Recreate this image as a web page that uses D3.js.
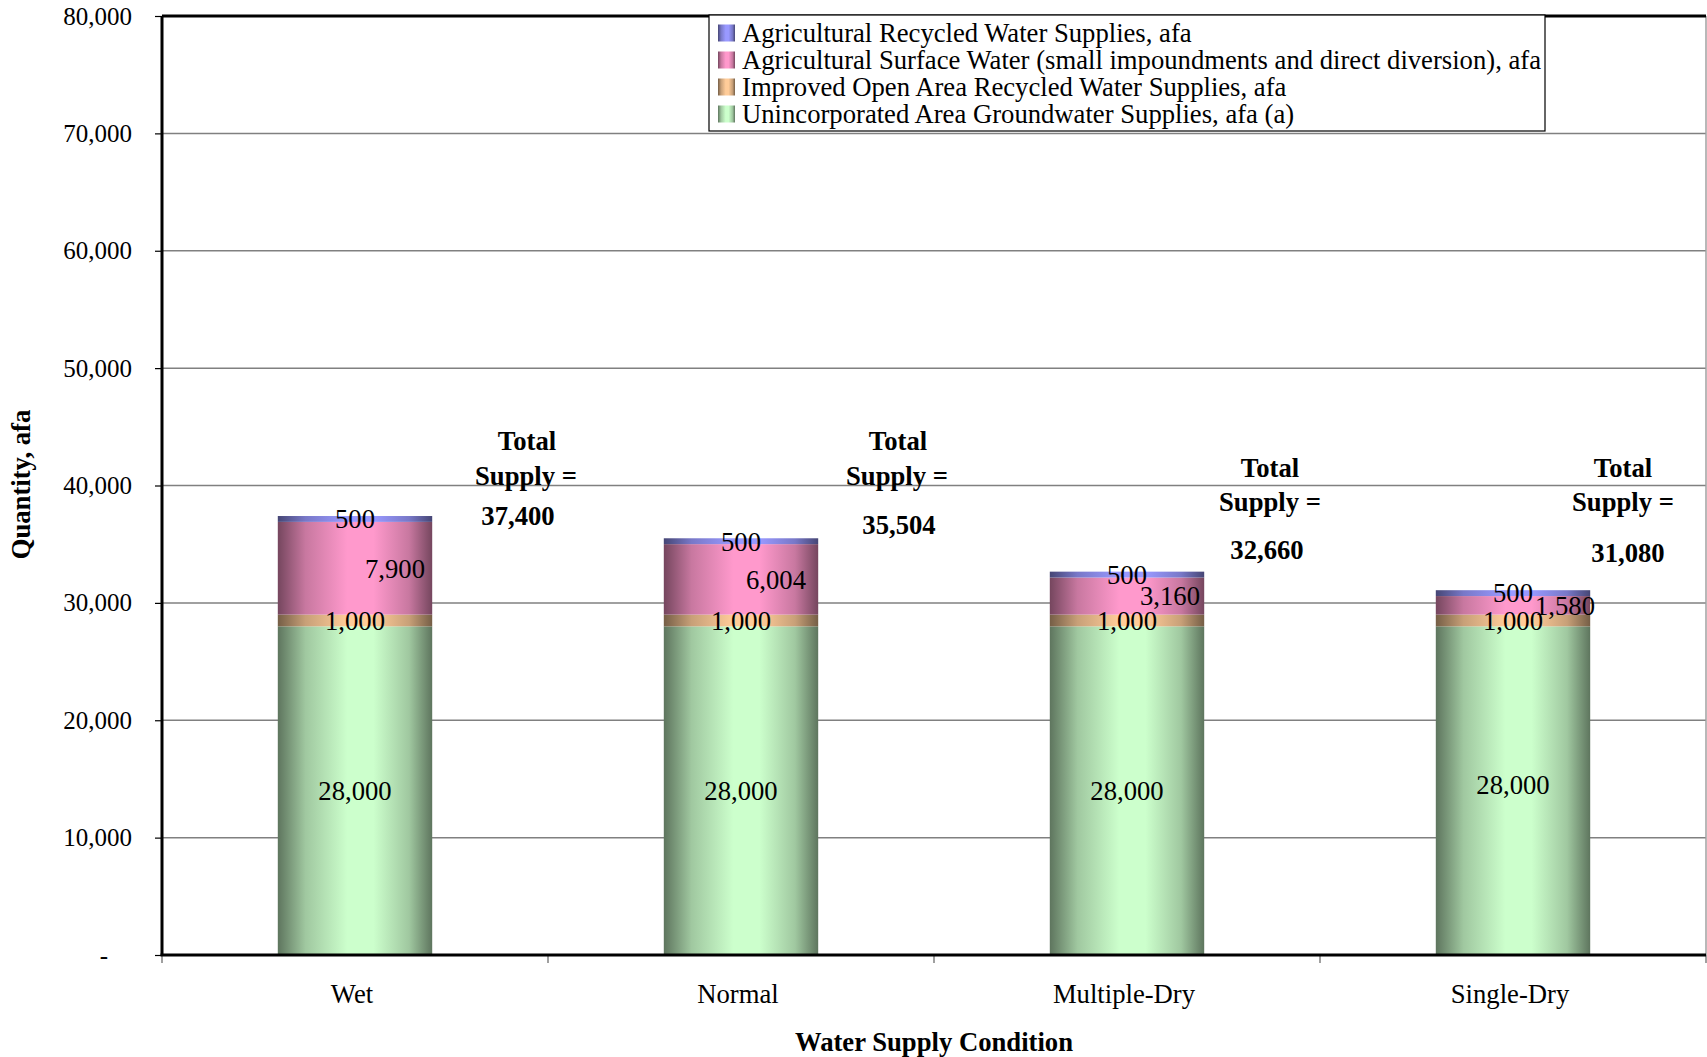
<!DOCTYPE html>
<html>
<head>
<meta charset="utf-8">
<script src="https://cdn.jsdelivr.net/npm/d3@7"></script>
<style>
  html, body { margin: 0; padding: 0; background: #fff; }
  svg { display: block; }
  text { font-family: "Liberation Serif", "Times New Roman", Times, serif; fill: #000; }
</style>
</head>
<body>
<svg id="chart" width="1707" height="1057"></svg>
<script>
// ---- data ----
const categories = ["Wet", "Normal", "Multiple-Dry", "Single-Dry"];
const seriesNames = [
  "Unincorporated Area Groundwater Supplies, afa (a)",
  "Improved Open Area Recycled Water Supplies, afa",
  "Agricultural Surface Water (small impoundments and direct diversion), afa",
  "Agricultural Recycled Water Supplies, afa"
];
const groundwater   = [28000, 28000, 28000, 28000];
const openAreaRecyc = [1000, 1000, 1000, 1000];
const surfaceWater  = [7900, 6004, 3160, 1580];
const agRecycled    = [500, 500, 500, 500];
const yTicks = [0, 10000, 20000, 30000, 40000, 50000, 60000, 70000, 80000];

// ---- styling / layout ----
const seriesColors = ["#ccffcc", "#ffcc99", "#ff99cc", "#9999ff"];
const FS = 26.67; // 20pt
const plot = { left: 162, right: 1706, top: 16, bottom: 955 };
// horizontal nudges for the surface-water value labels
const surfaceLabelDx = [40, 35, 43, 52];
// vertical nudges for the groundwater value labels
const groundLabelDy = [0, 0, 0, -6];
// "Total Supply =" text boxes: x offsets (from bar centre) and y of each of the three lines
const totalBoxes = [
  { dxs: [172, 171, 163], ys: [441, 476, 516] },
  { dxs: [157, 156, 158], ys: [441, 476, 525] },
  { dxs: [143, 143, 140], ys: [468, 502, 550] },
  { dxs: [110, 110, 115], ys: [468, 502, 553] }
];

const svg = d3.select("#chart");
const fmt = d3.format(",");

const rows = categories.map((c, i) => ({
  category: c,
  s0: groundwater[i], s1: openAreaRecyc[i], s2: surfaceWater[i], s3: agRecycled[i]
}));
const keys = ["s0", "s1", "s2", "s3"];
const stacked = d3.stack().keys(keys)(rows);

const x = d3.scaleBand().domain(categories)
  .range([plot.left, plot.right]).paddingInner(0.6).paddingOuter(0.3);
const xCell = d3.scaleBand().domain(categories).range([plot.left, plot.right]).padding(0);
const y = d3.scaleLinear().domain([0, 80000]).range([plot.bottom, plot.top]);

// gradients: dark edges, light centre
const defs = svg.append("defs");
function darken(hex, k) {
  const c = d3.rgb(hex);
  return d3.rgb(c.r * k, c.g * k, c.b * k).formatHex();
}
seriesColors.forEach((col, i) => {
  const g = defs.append("linearGradient").attr("id", "grad" + i)
    .attr("x1", "0%").attr("x2", "100%").attr("y1", "0%").attr("y2", "0%");
  const dark = darken(col, 0.46);
  const mid = d3.interpolateRgb(dark, col)(0.6);
  g.append("stop").attr("offset", "0%").attr("stop-color", dark);
  g.append("stop").attr("offset", "18%").attr("stop-color", mid);
  g.append("stop").attr("offset", "45%").attr("stop-color", col);
  g.append("stop").attr("offset", "62%").attr("stop-color", col);
  g.append("stop").attr("offset", "85%").attr("stop-color", mid);
  g.append("stop").attr("offset", "100%").attr("stop-color", dark);
});

// gridlines
svg.append("g").selectAll("line")
  .data(yTicks.filter(t => t > 0 && t < 80000))
  .join("line")
  .attr("x1", plot.left).attr("x2", plot.right)
  .attr("y1", d => y(d)).attr("y2", d => y(d))
  .attr("stroke", "#808080").attr("stroke-width", 1.5);

// right frame edge
svg.append("line")
  .attr("x1", plot.right).attr("x2", plot.right)
  .attr("y1", plot.top).attr("y2", plot.bottom)
  .attr("stroke", "#a0a0a0").attr("stroke-width", 1.5);

// bars
svg.append("g").selectAll("g")
  .data(stacked)
  .join("g")
  .attr("fill", (d, i) => `url(#grad${i})`)
  .selectAll("rect")
  .data(d => d)
  .join("rect")
  .attr("x", d => x(d.data.category))
  .attr("width", x.bandwidth())
  .attr("y", d => y(d[1]))
  .attr("height", d => y(d[0]) - y(d[1]));

// value labels on segments
const labelG = svg.append("g").attr("font-size", FS);
stacked.forEach((layer, si) => {
  layer.forEach((d, ci) => {
    const cx = x(d.data.category) + x.bandwidth() / 2 + (si === 2 ? surfaceLabelDx[ci] : 0);
    const cy = y((d[0] + d[1]) / 2) + (si === 0 ? groundLabelDy[ci] : 0);
    labelG.append("text")
      .attr("x", cx)
      .attr("y", cy)
      .attr("dy", "0.35em")
      .attr("text-anchor", "middle")
      .text(fmt(d[1] - d[0]));
  });
});

// total supply text boxes
const totalG = svg.append("g").attr("font-size", FS).attr("font-weight", "bold")
  .attr("text-anchor", "middle");
rows.forEach((r, i) => {
  const total = keys.reduce((s, k) => s + r[k], 0);
  const box = totalBoxes[i];
  const cx = x(r.category) + x.bandwidth() / 2;
  const lines = ["Total", "Supply =", fmt(total)];
  lines.forEach((t, li) => {
    totalG.append("text")
      .attr("x", cx + box.dxs[li])
      .attr("y", box.ys[li]).attr("dy", "0.35em")
      .text(t);
  });
});

// y axis
const yAxis = d3.axisLeft(y).tickValues(yTicks).tickSize(7).tickPadding(23)
  .tickFormat(d => d === 0 ? "-" : fmt(d));
const yG = svg.append("g").attr("transform", `translate(${plot.left},0)`).call(yAxis);
yG.select(".domain").remove();
yG.selectAll(".tick line").attr("stroke", "#000").attr("stroke-width", 1.2);
yG.selectAll(".tick text")
  .attr("font-family", '"Liberation Serif", "Times New Roman", serif')
  .attr("font-size", 25).attr("fill", "#000")
  .attr("dx", d => d === 0 ? -24 : 0);

// x axis ticks at category boundaries
const boundaries = categories.map(c => xCell(c)).concat([plot.right]);
svg.append("g").selectAll("line")
  .data(boundaries)
  .join("line")
  .attr("x1", d => d).attr("x2", d => d)
  .attr("y1", plot.bottom).attr("y2", plot.bottom + 8)
  .attr("stroke", "#808080").attr("stroke-width", 1.5);

svg.append("g").selectAll("text")
  .data(categories)
  .join("text")
  .attr("x", d => xCell(d) + xCell.bandwidth() / 2 - 3)
  .attr("y", 994).attr("dy", "0.35em")
  .attr("text-anchor", "middle").attr("font-size", FS)
  .text(d => d);

// frame: top, left and bottom
svg.append("line").attr("x1", plot.left).attr("x2", plot.right)
  .attr("y1", plot.top).attr("y2", plot.top)
  .attr("stroke", "#000").attr("stroke-width", 3);
svg.append("line").attr("x1", plot.left).attr("x2", plot.left)
  .attr("y1", plot.top).attr("y2", plot.bottom)
  .attr("stroke", "#000").attr("stroke-width", 3);
svg.append("line").attr("x1", plot.left - 1.5).attr("x2", plot.right)
  .attr("y1", plot.bottom).attr("y2", plot.bottom)
  .attr("stroke", "#000").attr("stroke-width", 3);

// axis titles
svg.append("text")
  .attr("x", (plot.left + plot.right) / 2).attr("y", 1042).attr("dy", "0.35em")
  .attr("text-anchor", "middle").attr("font-size", FS).attr("font-weight", "bold")
  .text("Water Supply Condition");
svg.append("text")
  .attr("transform", `translate(21,${(plot.top + plot.bottom) / 2 - 1}) rotate(-90)`)
  .attr("dy", "0.35em")
  .attr("text-anchor", "middle").attr("font-size", FS).attr("font-weight", "bold")
  .text("Quantity, afa");

// legend (top to bottom: reverse of stacking order)
const legend = svg.append("g");
legend.append("rect")
  .attr("x", 709).attr("y", 15).attr("width", 836).attr("height", 116)
  .attr("fill", "#fff").attr("stroke", "#000").attr("stroke-width", 1.2);
const legendItems = d3.range(4).map(i => 3 - i);
legendItems.forEach((si, row) => {
  const cy = 33 + row * 27;
  legend.append("rect")
    .attr("x", 718).attr("y", cy - 8.5).attr("width", 17).attr("height", 17)
    .attr("fill", `url(#grad${si})`);
  legend.append("text")
    .attr("x", 742).attr("y", cy).attr("dy", "0.35em")
    .attr("font-size", FS)
    .text(seriesNames[si]);
});
</script>
</body>
</html>
